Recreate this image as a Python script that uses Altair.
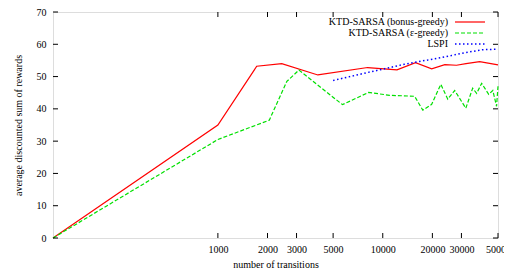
import altair as alt
import pandas as pd

# ---- data ----
red_x = [100, 1000, 1720, 2440, 4040, 8100, 12200, 15800, 19800, 23800, 28000, 32000, 38700, 50000]
red_y = [0, 35, 53.2, 54.0, 50.5, 52.8, 52.1, 54.3, 52.4, 53.7, 53.5, 54.0, 54.6, 53.6]

green_x = [100, 1000, 2050, 2620, 3100, 5700, 8200, 11000, 15600, 17500, 19800, 22500, 24800,
           27300, 31900, 35100, 37100, 39800, 43900, 46500, 49000, 50000]
green_y = [0, 30.5, 36.5, 48.5, 52.0, 41.3, 45.1, 44.2, 43.9, 39.6, 41.4, 47.6, 43.0,
           45.7, 40.2, 46.4, 44.8, 47.9, 44.5, 45.7, 40.8, 47.0]

blue_x = [5000, 8000, 10000, 13500, 20000, 26000, 30000, 40000, 50000]
blue_y = [48.8, 51.2, 52.3, 53.8, 55.4, 56.5, 57.2, 58.3, 58.5]

x_ticks = [1000, 2000, 3000, 5000, 10000, 20000, 30000, 50000]
y_ticks = [0, 10, 20, 30, 40, 50, 60, 70]

labels = ["KTD-SARSA (bonus-greedy)", "KTD-SARSA (\u03b5-greedy)", "LSPI"]
colors = ["#ff0000", "#00e000", "#0000ff"]

FONT = "Liberation Serif"
W, H = 445, 226
TICK = 5

df_red = pd.DataFrame({"x": red_x, "y": red_y})
df_green = pd.DataFrame({"x": green_x, "y": green_y})
df_blue = pd.DataFrame({"x": blue_x, "y": blue_y})
df_xt = pd.DataFrame({"t": x_ticks})
df_yt = pd.DataFrame({"t": y_ticks})

xscale = alt.Scale(type="log", domain=[100, 50000], nice=False)
yscale = alt.Scale(domain=[0, 70], nice=False)

common = dict(grid=False, domain=False, labelFont=FONT, labelFontSize=10, labelColor="black",
              titleFont=FONT, titleFontSize=10, titleFontWeight="normal", titleColor="black")

ax_x_main = alt.Axis(orient="bottom", values=x_ticks, format="d", ticks=False, labelPadding=6,
                     labelFlush=False, labelOverlap=False, title="number of transitions",
                     titlePadding=5, **common)
ax_y_main = alt.Axis(orient="left", values=y_ticks, ticks=False, labelPadding=7,
                     labelOverlap=False, title="average discounted sum of rewards",
                     titlePadding=13, **common)

red = alt.Chart(df_red).mark_line(color=colors[0], strokeWidth=1.2).encode(
    x=alt.X("x:Q", scale=xscale, axis=ax_x_main),
    y=alt.Y("y:Q", scale=yscale, axis=ax_y_main),
)
green = alt.Chart(df_green).mark_line(color=colors[1], strokeWidth=1.2, strokeDash=[4, 2]).encode(
    x=alt.X("x:Q", scale=xscale, axis=None),
    y=alt.Y("y:Q", scale=yscale, axis=None),
)
blue = alt.Chart(df_blue).mark_line(color=colors[2], strokeWidth=1.5, strokeDash=[1.5, 2.5]).encode(
    x=alt.X("x:Q", scale=xscale, axis=None),
    y=alt.Y("y:Q", scale=yscale, axis=None),
)

# inward tick marks on all four sides (gnuplot style)
tick_layers = [
    alt.Chart(df_xt).mark_rule(color="black", strokeWidth=1).encode(
        x=alt.X("t:Q", scale=xscale, axis=None), y=alt.value(H), y2=alt.value(H - TICK)),
    alt.Chart(df_xt).mark_rule(color="black", strokeWidth=1).encode(
        x=alt.X("t:Q", scale=xscale, axis=None), y=alt.value(0), y2=alt.value(TICK)),
    alt.Chart(df_yt).mark_rule(color="black", strokeWidth=1).encode(
        y=alt.Y("t:Q", scale=yscale, axis=None), x=alt.value(0), x2=alt.value(TICK)),
    alt.Chart(df_yt).mark_rule(color="black", strokeWidth=1).encode(
        y=alt.Y("t:Q", scale=yscale, axis=None), x=alt.value(W - TICK), x2=alt.value(W)),
]

one = pd.DataFrame({"a": [0]})
legend_layers = []
dashes = [None, [4, 2], [1.5, 2.5]]
for i, (lab, col) in enumerate(zip(labels, colors)):
    ypos = 10 + i * 11
    legend_layers.append(
        alt.Chart(one).mark_text(text=lab, align="right", baseline="middle", font=FONT,
                                 fontSize=10, color="black").encode(
            x=alt.value(395), y=alt.value(ypos))
    )
    kw = dict(color=col, strokeWidth=1.5 if i == 2 else 1.2)
    if dashes[i] is not None:
        kw["strokeDash"] = dashes[i]
    legend_layers.append(
        alt.Chart(one).mark_rule(**kw).encode(
            x=alt.value(402), x2=alt.value(432), y=alt.value(ypos))
    )

chart = alt.layer(red, green, blue, *tick_layers, *legend_layers).resolve_axis(
    x="independent", y="independent"
).properties(
    width=W, height=H,
    autosize=alt.AutoSizeParams(type="none"),
    padding={"left": 45, "top": 4, "right": 6, "bottom": 35},
).configure_view(stroke="black", strokeWidth=1).configure(background="white")

chart.save("out.html", embed_options={"renderer": "svg", "actions": False})
